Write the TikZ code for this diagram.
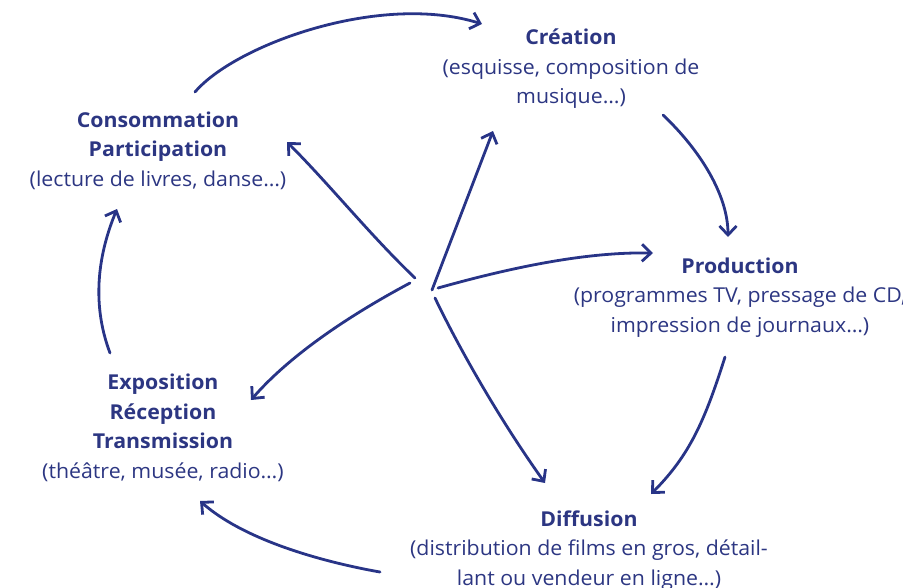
\documentclass[tikz,border=0pt]{standalone}
\usepackage{fontspec}
\setmainfont{Open Sans}[FakeStretch=1.04]
\usetikzlibrary{arrows.meta}
\definecolor{ink}{RGB}{40,52,135}
\definecolor{txt}{RGB}{44,54,130}
\begin{document}
\begin{tikzpicture}[x=1pt,y=-1pt,
  lbl/.style={text=txt, align=center, font=\fontsize{20.5}{29.5}\selectfont, inner sep=0pt},
  sketch/.style={draw=ink, line width=2.8pt, line cap=round, line join=round,
    -{Straight Barb[length=9pt,width=17pt]}}]
\useasboundingbox (0,0) rectangle (903,587);

% stage labels
\node[lbl] (crea) at (571,69) {\textbf{Création}\\(esquisse, composition de\\musique…)};
\node[lbl] (cons) at (158,150.5) {\textbf{Consommation}\\\textbf{Participation}\\(lecture de livres, danse…)};
\node[lbl] (prod) at (740,297.5) {\textbf{Production}\\(programmes TV, pressage de CD,\\impression de journaux…)};
\node[lbl] (expo) at (163,428) {\textbf{Exposition}\\\textbf{Réception}\\\textbf{Transmission}\\(théâtre, musée, radio…)};
\node[lbl] (diff) at (589,550.5) {\textbf{Diffusion}\\(distribution de films en gros, détail-\\lant ou vendeur en ligne…)};

% ends of the cycle arrows
\coordinate (consOut) at (195,92);
\coordinate (creaIn) at (482,24);
\coordinate (creaOut) at (663,115);
\coordinate (prodIn) at (728,237);
\coordinate (prodOut) at (725,357);
\coordinate (diffIn) at (651,494);
\coordinate (diffOut) at (380,572);
\coordinate (expoIn) at (200,501);
\coordinate (expoOut) at (110,353);
\coordinate (consIn) at (117,209);

% ends of the spokes around the hub
\coordinate (hubNW) at (415,278);
\coordinate (hubN) at (432,290);
\coordinate (hubE) at (438,288);
\coordinate (hubS) at (435,298);
\coordinate (hubW) at (410,283);
\coordinate (spCons) at (287,142);
\coordinate (spCrea) at (493,131);
\coordinate (spProd) at (653,253);
\coordinate (spDiff) at (545,483);
\coordinate (spExpo) at (251,400);

% the cycle
\draw[sketch] (consOut) .. controls (235,45) and (380,-8) .. (creaIn);
\draw[sketch] (creaOut) .. controls (700,150) and (728,195) .. (prodIn);
\draw[sketch] (prodOut) .. controls (705,420) and (690,455) .. (diffIn);
\draw[sketch] (diffOut) .. controls (340,565) and (250,545) .. (expoIn);
\draw[sketch] (expoOut) .. controls (90,300) and (100,250) .. (consIn);

% the spokes
\draw[sketch] (hubNW) .. controls (370,235) and (330,185) .. (spCons);
\draw[sketch] (hubN) -- (spCrea);
\draw[sketch] (hubE) .. controls (520,265) and (590,252) .. (spProd);
\draw[sketch] (hubS) .. controls (460,350) and (500,420) .. (spDiff);
\draw[sketch] (hubW) .. controls (350,315) and (290,355) .. (spExpo);
\end{tikzpicture}
\end{document}
